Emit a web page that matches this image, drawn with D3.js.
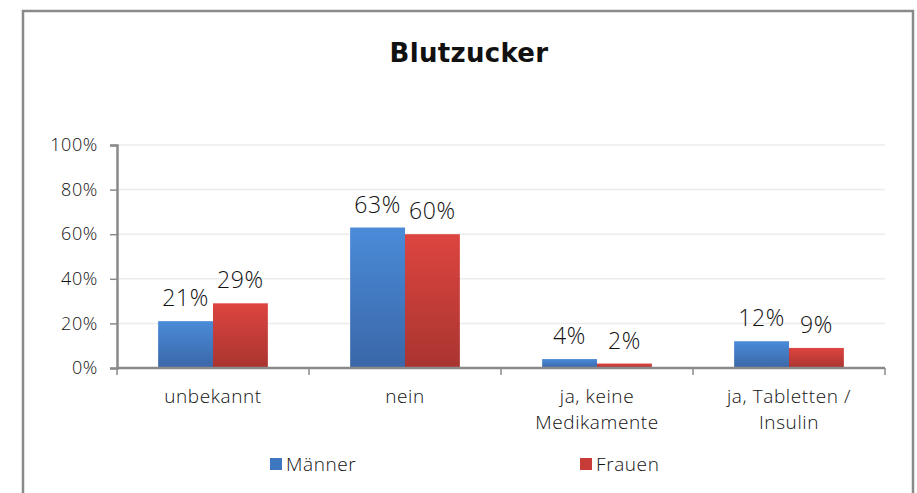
<!DOCTYPE html>
<html>
<head>
<meta charset="utf-8">
<script src="https://cdn.jsdelivr.net/npm/d3@7"></script>
<style>
  body { margin: 0; background: #fff; }
  text { font-family: "Open Sans", "Noto Sans", sans-serif; font-weight: 300; letter-spacing: 0.6px; fill: #111; }
</style>
</head>
<body>
<div id="chart"></div>
<script>
var categories = [["unbekannt"], ["nein"], ["ja, keine", "Medikamente"], ["ja, Tabletten /", "Insulin"]];
var seriesNames = ["Männer", "Frauen"];
var maenner = [21, 63, 4, 12];
var frauen = [29, 60, 2, 9];
var yTicks = [0, 20, 40, 60, 80, 100];

var width = 917, height = 493;
var margin = {top: 145, right: 32, bottom: 125, left: 117};

var svg = d3.select("#chart").append("svg")
    .attr("width", width)
    .attr("height", height);

var defs = svg.append("defs");
function grad(id, top, bottom) {
    var g = defs.append("linearGradient").attr("id", id)
        .attr("x1", 0).attr("y1", 0).attr("x2", 0).attr("y2", 1);
    g.append("stop").attr("offset", "0%").attr("stop-color", top);
    g.append("stop").attr("offset", "100%").attr("stop-color", bottom);
}
grad("gBlue", "#4a8bd8", "#3a67a8");
grad("gRed", "#dd4540", "#a93430");
var fills = ["url(#gBlue)", "url(#gRed)"];
var legendColors = ["#3f76c2", "#c83c38"];

// outer frame
svg.append("path")
    .attr("d", "M23,493 L23,11 L913,11 L913,493")
    .attr("fill", "none")
    .attr("stroke", "#8a8a8a")
    .attr("stroke-width", 2.5);

svg.append("text")
    .attr("x", 469).attr("y", 62)
    .attr("text-anchor", "middle")
    .style("font-family", "'DejaVu Sans', sans-serif")
    .style("letter-spacing", "0.3px")
    .style("font-size", "26px")
    .style("font-weight", "bold")
    .style("fill", "#111")
    .text("Blutzucker");

var x0 = margin.left, x1 = width - margin.right;
var y0 = height - margin.bottom, y1 = margin.top;

var x = d3.scaleBand().domain(d3.range(categories.length)).range([x0, x1]);
var xs = d3.scaleBand().domain([0, 1]).range([0, x.bandwidth()]).paddingOuter(0.75).paddingInner(0);
var y = d3.scaleLinear().domain([0, 100]).range([y0, y1]);

// gridlines
svg.append("g").selectAll("line")
    .data(yTicks.slice(1))
    .enter().append("line")
    .attr("x1", x0).attr("x2", x1)
    .attr("y1", d => y(d)).attr("y2", d => y(d))
    .attr("stroke", "#ececec")
    .attr("stroke-width", 1.5);

// y axis
var yAxis = svg.append("g")
    .attr("transform", "translate(" + x0 + ",0)")
    .call(d3.axisLeft(y).tickValues(yTicks).tickFormat(d => d + "%").tickSize(7).tickPadding(12));
yAxis.select(".domain").attr("stroke", "#8a8a8a").attr("stroke-width", 2.5);
yAxis.selectAll(".tick line").attr("stroke", "#8a8a8a").attr("stroke-width", 1.5);
yAxis.selectAll("text").style("font-size", "18px").style("fill", "#111").attr("font-family", null);

var data = [maenner, frauen];

var groups = svg.append("g").selectAll("g")
    .data(categories)
    .enter().append("g")
    .attr("transform", (d, i) => "translate(" + x(i) + ",0)");

groups.selectAll("rect")
    .data((d, i) => data.map((s, j) => ({s: j, v: s[i]})))
    .enter().append("rect")
    .attr("x", d => xs(d.s))
    .attr("y", d => y(d.v))
    .attr("width", xs.bandwidth())
    .attr("height", d => y0 - y(d.v))
    .attr("fill", d => fills[d.s]);

groups.selectAll("text.val")
    .data((d, i) => data.map((s, j) => ({s: j, v: s[i]})))
    .enter().append("text")
    .attr("class", "val")
    .attr("x", d => xs(d.s) + xs.bandwidth() / 2)
    .attr("y", d => y(d.v) - 15)
    .attr("text-anchor", "middle")
    .style("font-size", "23px")
    .text(d => d.v + "%");

// x axis
var xAxis = svg.append("g")
    .attr("transform", "translate(0," + y0 + ")");
xAxis.append("line")
    .attr("x1", x0).attr("x2", x1)
    .attr("stroke", "#8a8a8a").attr("stroke-width", 2.5);
xAxis.selectAll("line.tick")
    .data(d3.range(categories.length + 1))
    .enter().append("line")
    .attr("class", "tick")
    .attr("x1", d => x0 + d * x.step()).attr("x2", d => x0 + d * x.step())
    .attr("y1", 0).attr("y2", 7)
    .attr("stroke", "#8a8a8a").attr("stroke-width", 1.5);

var labels = xAxis.selectAll("text.cat")
    .data(categories)
    .enter().append("text")
    .attr("class", "cat")
    .attr("x", (d, i) => x(i) + x.bandwidth() / 2)
    .attr("y", 35)
    .attr("text-anchor", "middle")
    .style("font-size", "19px");
labels.selectAll("tspan")
    .data(d => d)
    .enter().append("tspan")
    .attr("x", function() { return d3.select(this.parentNode).attr("x"); })
    .attr("dy", (d, i) => i === 0 ? 0 : 26)
    .text(d => d);

// legend
var legendX = [270, 580];
var legend = svg.append("g").selectAll("g")
    .data(seriesNames)
    .enter().append("g")
    .attr("transform", (d, i) => "translate(" + legendX[i] + ",458)");
legend.append("rect")
    .attr("width", 12).attr("height", 12)
    .attr("fill", (d, i) => legendColors[i]);
legend.append("text")
    .attr("x", 16).attr("y", 13)
    .style("font-size", "19px")
    .text(d => d);
</script>
</body>
</html>
